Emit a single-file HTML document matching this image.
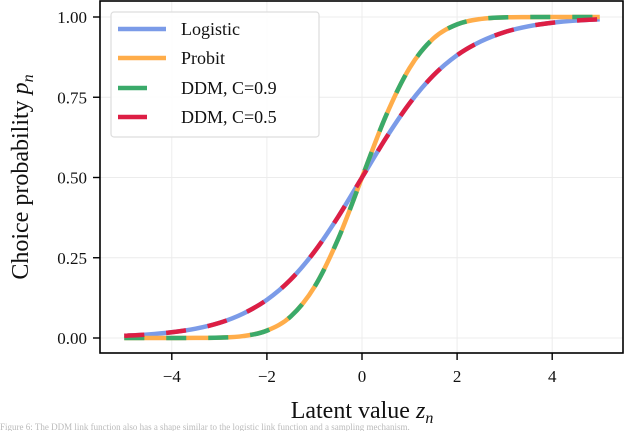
<!DOCTYPE html>
<html><head><meta charset="utf-8"><style>
body{margin:0;background:#fff;width:640px;height:431px;overflow:hidden}
svg text{font-family:"Liberation Serif",serif;fill:#111}
</style></head><body>
<svg id="chart" width="640" height="431" xmlns="http://www.w3.org/2000/svg">
<g id="grid"></g>
<g id="series"></g>
<rect x="100" y="1" width="523" height="352" fill="none" stroke="#000" stroke-width="1.6"/>
<g id="ticks"></g>
<text x="362" y="418" font-size="24" text-anchor="middle">Latent value <tspan font-style="italic">z</tspan><tspan font-style="italic" font-size="16" dy="5">n</tspan></text>
<text transform="translate(28,177) rotate(-90)" font-size="24" text-anchor="middle">Choice probability <tspan font-style="italic">p</tspan><tspan font-style="italic" font-size="16" dy="5">n</tspan></text>
<g>
<rect x="111" y="12" width="208" height="125" rx="3" fill="#fff" fill-opacity="0.9" stroke="#ddd" stroke-width="1.2"/>
<line x1="118" y1="29" x2="166" y2="29" stroke="#7b9be8" stroke-width="4.5"/>
<text x="181" y="35" font-size="18">Logistic</text>
<line x1="118" y1="58" x2="166" y2="58" stroke="#ffad4a" stroke-width="4.5"/>
<text x="181" y="64" font-size="18">Probit</text>
<line x1="118" y1="88" x2="147" y2="88" stroke="#3aaa6a" stroke-width="4.5"/>
<text x="181" y="94" font-size="18">DDM, C=0.9</text>
<line x1="118" y1="117" x2="147" y2="117" stroke="#dd1e44" stroke-width="4.5"/>
<text x="181" y="123" font-size="18">DDM, C=0.5</text>
</g>
<text x="0" y="430" font-size="9" fill="#bbb" style="fill:#bbb">Figure 6: The DDM link function also has a shape similar to the logistic link function and a sampling mechanism.</text>
</svg>
<script>
const zValues=[-5,-4.5,-4,-3.5,-3,-2.5,-2,-1.5,-1,-0.5,0,0.5,1,1.5,2,2.5,3,3.5,4,4.5,5];
const logisticValues=[0.007,0.011,0.018,0.029,0.047,0.076,0.119,0.182,0.269,0.378,0.5,0.622,0.731,0.818,0.881,0.924,0.953,0.971,0.982,0.989,0.993];
const probitValues=[0.0,0.0,0.0,0.0002,0.001,0.006,0.023,0.067,0.159,0.309,0.5,0.691,0.841,0.933,0.977,0.994,0.999,0.9998,1.0,1.0,1.0];
const ddm09Values=probitValues.slice();
const ddm05Values=logisticValues.slice();
const xTicks=[-4,-2,0,2,4];
const yTicks=[0,0.25,0.5,0.75,1];
const yTickLabels=["0.00","0.25","0.50","0.75","1.00"];
const NS="http://www.w3.org/2000/svg";
const xs=v=>362+v*47.55, ys=v=>338-v*321;
function mk(t,a,p){const e=document.createElementNS(NS,t);for(const k in a)e.setAttribute(k,a[k]);p.appendChild(e);return e;}
const grid=document.getElementById('grid'),ticks=document.getElementById('ticks'),ser=document.getElementById('series');
xTicks.forEach(t=>{
 const g=mk('line',{x1:xs(t),x2:xs(t),y1:1,y2:353,stroke:'#ececec','stroke-width':1},grid);
 
 
 const l=mk('line',{x1:xs(t),x2:xs(t),y1:353,y2:360,stroke:'#000','stroke-width':1.4},ticks);
 
 
 const tx=mk('text',{x:xs(t),y:382,'font-size':17,'text-anchor':'middle'},ticks);
 tx.textContent=t<0?'\u2212'+(-t):String(t);
 
 
});
yTicks.forEach((t,i)=>{
 const g=mk('line',{x1:100,x2:623,y1:ys(t),y2:ys(t),stroke:'#ececec','stroke-width':1},grid);
 
 
 const l=mk('line',{x1:93,x2:100,y1:ys(t),y2:ys(t),stroke:'#000','stroke-width':1.4},ticks);
 
 
 const tx=mk('text',{x:87,y:ys(t)+6,'font-size':17,'text-anchor':'end'},ticks);
 tx.textContent=yTickLabels[i];
 
 
});
function path(vals){
 // Catmull-Rom smoothing through data points
 const p=zValues.map((z,i)=>[xs(z),ys(vals[i])]);
 let d='M'+p[0][0]+','+p[0][1];
 for(let i=0;i<p.length-1;i++){
  const p0=p[Math.max(0,i-1)],p1=p[i],p2=p[i+1],p3=p[Math.min(p.length-1,i+2)];
  d+=' C'+(p1[0]+(p2[0]-p0[0])/6)+','+(p1[1]+(p2[1]-p0[1])/6)+' '+(p2[0]-(p3[0]-p1[0])/6)+','+(p2[1]-(p3[1]-p1[1])/6)+' '+p2[0]+','+p2[1];
 }
 return d;
}
[[logisticValues,'#7b9be8',null,'logistic-line'],[probitValues,'#ffad4a',null,'probit-line'],
 [ddm09Values,'#3aaa6a','20 22','ddm-c09-line'],[ddm05Values,'#dd1e44','20 22','ddm-c05-line']].forEach(s=>{
 const a={d:path(s[0]),fill:'none',stroke:s[1],'stroke-width':4.5};
 if(s[2]){a['stroke-dasharray']=s[2];}
 const e=mk('path',a,ser);
 
 
});
</script>
</body></html>
